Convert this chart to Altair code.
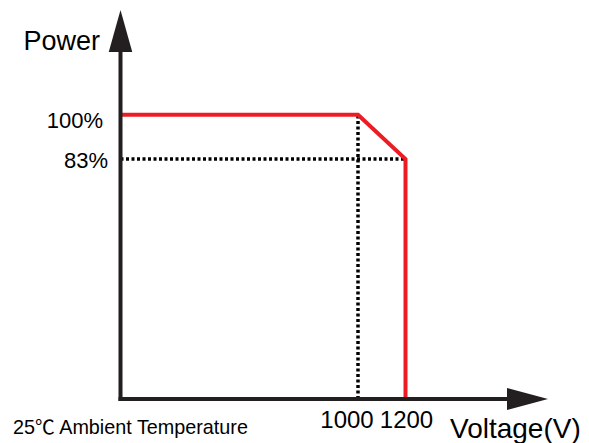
import altair as alt
import pandas as pd

# ---- data ----
curve_voltage = [0, 1000, 1200, 1200]
curve_power = [100, 100, 83, 0]
knee_voltage = 1000
end_voltage = 1200
full_power = 100
derated_power = 83
y_tick_values = [100, 83]
y_tick_labels = ["100%", "83%"]
x_tick_values = [1000, 1200]
x_tick_labels = ["1000", "1200"]
x_max = 1800
y_max = 140
y_title = "Power"
x_title = "Voltage(V)"
note = "25\u2103 Ambient Temperature"

# ---- styling ----
FONT = "Liberation Sans, Arial, Helvetica, sans-serif"
NOTE_FONT = "Liberation Sans, Noto Sans CJK SC, sans-serif"
RED = "#ed1c24"
AXIS = "#231f20"

xs = alt.Scale(domain=[0, x_max], nice=False, zero=False)
ys = alt.Scale(domain=[0, derated_power, full_power, y_max],
               range=[389, 149, 104.7, 0], nice=False, zero=False)


def X(f="x"):
    return alt.X(f"{f}:Q", scale=xs, axis=None)


def Y(f="y"):
    return alt.Y(f"{f}:Q", scale=ys, axis=None)


curve_df = pd.DataFrame({"x": curve_voltage, "y": curve_power,
                         "i": list(range(len(curve_voltage)))})
guides_df = pd.DataFrame({
    "x": [0, knee_voltage], "y": [derated_power, 0],
    "x2": [end_voltage, knee_voltage], "y2": [derated_power, full_power]})
axes_df = pd.DataFrame({"x": [0, 0], "y": [0, 0],
                        "x2": [x_max - 150, 0], "y2": [0, y_max - 15]})

guides = alt.Chart(guides_df).mark_rule(
    color="black", strokeWidth=3.5, strokeDash=[3, 2.5]
).encode(x=X(), y=Y(), x2="x2:Q", y2="y2:Q")

curve = alt.Chart(curve_df).mark_line(
    color=RED, strokeWidth=4, strokeJoin="miter", strokeCap="butt"
).encode(x=X(), y=Y(), order="i:Q")

axes = alt.Chart(axes_df).mark_rule(
    color=AXIS, strokeWidth=4, strokeCap="square"
).encode(x=X(), y=Y(), x2="x2:Q", y2="y2:Q")

up_arrow = alt.Chart(pd.DataFrame({"x": [0], "y": [y_max]})).mark_point(
    shape="M0,0L0.56,2L-0.56,2Z", size=1764, filled=True, opacity=1,
    color=AXIS, strokeWidth=0
).encode(x=X(), y=Y())

right_arrow = alt.Chart(pd.DataFrame({"x": [x_max], "y": [0]})).mark_point(
    shape="M0,0L-2,-0.54L-2,0.54Z", size=1681, filled=True, opacity=1,
    color=AXIS, strokeWidth=0
).encode(x=X(), y=Y())


def label(xv, yv, text, size, align, dx, dy, font=FONT):
    return alt.Chart(pd.DataFrame({"x": [xv], "y": [yv], "t": [text]})).mark_text(
        font=font, fontSize=size, align=align, baseline="alphabetic",
        dx=dx, dy=dy, color="black"
    ).encode(x=X(), y=Y(), text="t:N")


y_offsets = {100: (-17.5, 13.3), 83: (-12.5, 9)}
x_offsets = {1000: (-11, 29), 1200: (1, 29)}

texts = []
for v, t in zip(y_tick_values, y_tick_labels):
    dx, dy = y_offsets[v]
    texts.append(label(0, v, t, 22, "right", dx, dy))
for v, t in zip(x_tick_values, x_tick_labels):
    dx, dy = x_offsets[v]
    texts.append(label(v, 0, t, 24, "center", dx, dy))
texts.append(label(0, y_max, y_title, 27, "right", -20.5, 40))
texts.append(label(x_max, 0, x_title, 28, "left", -98, 39))
texts.append(label(0, 0, note, 19.8, "left", -107.5, 35, NOTE_FONT))

chart = alt.layer(guides, curve, axes, up_arrow, right_arrow, *texts).properties(
    width=427.5, height=389,
    padding={"left": 112.5, "top": 2, "right": 33, "bottom": 60},
    autosize="none",
).configure_view(stroke=None)

chart.save("out.html", embed_options={"renderer": "svg", "actions": False})
